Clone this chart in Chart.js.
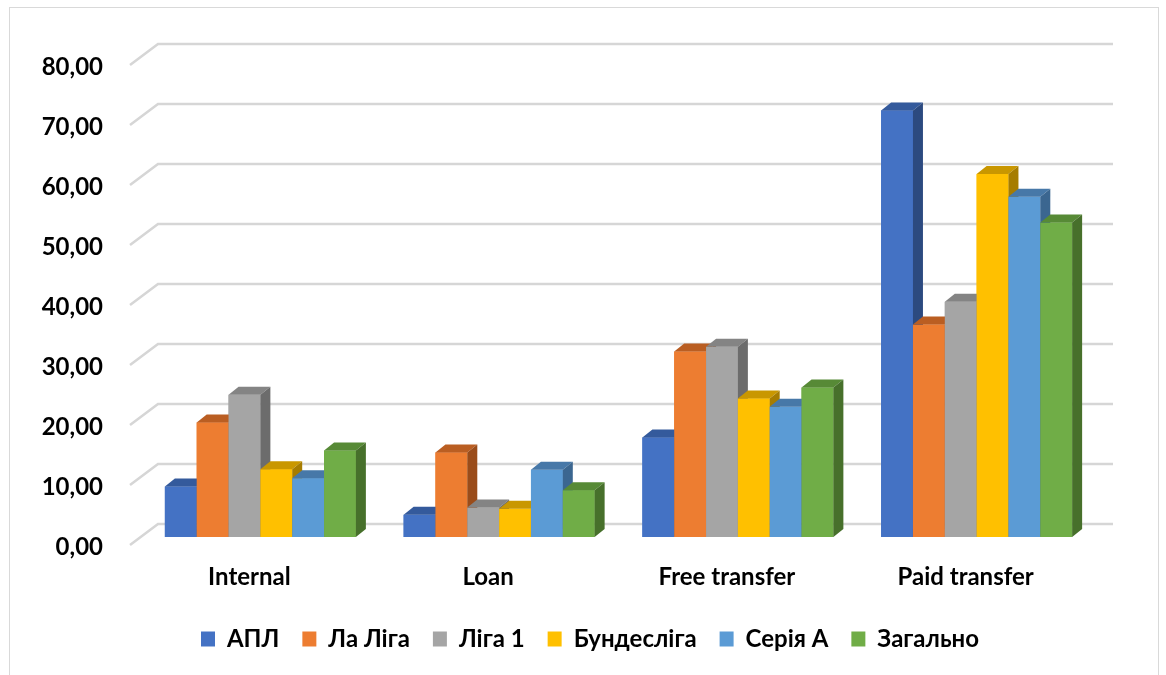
<!DOCTYPE html>
<html>
<head>
<meta charset="utf-8">
<script src="https://cdn.jsdelivr.net/npm/chart.js@4"></script>
<style>
  body { margin: 0; background: #fff; }
  #frame { position: absolute; left: 9px; top: 7px; width: 1148px; height: 700px; border: 1px solid #d9d9d9; }
  #wrap { position: absolute; left: 0; top: 0; width: 1166px; height: 675px; }
</style>
</head>
<body>
<div id="frame"></div>
<div id="wrap"><canvas id="chart" width="1166" height="675"></canvas></div>
<script>
const categories = ['Internal', 'Loan', 'Free transfer', 'Paid transfer'];
const leagues = ['АПЛ', 'Ла Ліга', 'Ліга 1', 'Бундесліга', 'Серія А', 'Загально'];

const apl = [8.4, 3.7, 16.6, 71.1];
const laLiga = [19.1, 14.1, 30.9, 35.4];
const ligue1 = [23.7, 4.9, 31.7, 39.2];
const bundesliga = [11.3, 4.7, 23.1, 60.5];
const serieA = [9.8, 11.2, 21.7, 56.7];
const total = [14.4, 7.8, 24.9, 52.4];

const series = [apl, laLiga, ligue1, bundesliga, serieA, total];

const colors = ['#4472C4', '#ED7D31', '#A5A5A5', '#FFC000', '#5B9BD5', '#70AD47'];
const topColors = ['#345A9C', '#BA5E22', '#848484', '#C99700', '#4778A8', '#578A36'];
const sideColors = ['#2C4A80', '#9A4C1A', '#6C6C6C', '#A67C00', '#3B6690', '#47702B'];

// 3d look: bar depth and back wall offsets
const depth = { dx: 10, dy: -8 };
const wall = { bx: 17, by: -13, fx: -11, fy: 8 };

const fakeDepth = {
  id: 'fakeDepth',
  afterLayout(chart) {
    // legend is centred on the whole frame, not on the plot
    chart.legend.left += 42;
    chart.legend.right += 42;
  },
  beforeDatasetsDraw(chart) {
    const ctx = chart.ctx;
    const y = chart.scales.y;
    const area = chart.chartArea;
    ctx.save();
    ctx.strokeStyle = '#d6d6d6';
    ctx.lineWidth = 2.5;
    y.ticks.forEach(t => {
      const py = y.getPixelForValue(t.value);
      ctx.beginPath();
      ctx.moveTo(area.left + wall.fx, py + wall.fy);
      ctx.lineTo(area.left + wall.bx, py + wall.by);
      ctx.lineTo(area.right + wall.bx, py + wall.by);
      ctx.stroke();
    });
    ctx.restore();
  },
  afterDatasetsDraw(chart) {
    const ctx = chart.ctx;
    ctx.save();
    chart.data.datasets.forEach((ds, i) => {
      const meta = chart.getDatasetMeta(i);
      meta.data.forEach(bar => {
        const p = bar.getProps(['x', 'y', 'base', 'width'], true);
        const l = p.x - p.width / 2, r = p.x + p.width / 2;
        ctx.fillStyle = colors[i];
        ctx.fillRect(l, p.y, p.width, p.base - p.y);
        ctx.fillStyle = topColors[i];
        ctx.beginPath();
        ctx.moveTo(l, p.y);
        ctx.lineTo(r, p.y);
        ctx.lineTo(r + depth.dx, p.y + depth.dy);
        ctx.lineTo(l + depth.dx, p.y + depth.dy);
        ctx.closePath();
        ctx.fill();
        ctx.fillStyle = sideColors[i];
        ctx.beginPath();
        ctx.moveTo(r, p.y);
        ctx.lineTo(r + depth.dx, p.y + depth.dy);
        ctx.lineTo(r + depth.dx, p.base + depth.dy);
        ctx.lineTo(r, p.base);
        ctx.closePath();
        ctx.fill();
      });
    });
    ctx.restore();
  }
};

new Chart(document.getElementById('chart'), {
  type: 'bar',
  data: {
    labels: categories,
    datasets: leagues.map((name, i) => ({
      label: name,
      data: series[i],
      backgroundColor: colors[i],
      borderWidth: 0,
      categoryPercentage: 0.8,
      barPercentage: 1.0
    }))
  },
  options: {
    responsive: false,
    animation: false,
    layout: { padding: { top: 57, right: 70, bottom: 14, left: 0 } },
    scales: {
      x: {
        grid: { display: false, drawTicks: false },
        border: { display: false },
        ticks: {
          font: { family: 'Lato', size: 24, weight: 'bold' },
          color: '#000',
          padding: 26,
          labelOffset: -11
        },
        afterFit: s => { s.height = 67; }
      },
      y: {
        min: 0,
        max: 80,
        grid: { display: false, drawTicks: false },
        border: { display: false },
        ticks: {
          stepSize: 10,
          font: { family: 'Lato', size: 24, weight: 'bold' },
          color: '#000',
          padding: 38,
          labelOffset: 10,
          callback: v => v.toFixed(2).replace('.', ',')
        },
        afterFit: s => { s.width = 141; }
      }
    },
    plugins: {
      legend: {
        position: 'bottom',
        labels: {
          boxWidth: 14,
          boxHeight: 15,
          padding: 23,
          color: '#000',
          font: { family: 'Lato', size: 24, weight: 'bold' }
        }
      },
      tooltip: { enabled: false }
    }
  },
  plugins: [fakeDepth]
});
</script>
</body>
</html>
